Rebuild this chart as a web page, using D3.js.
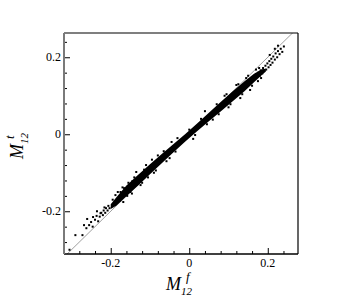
<!DOCTYPE html>
<html>
<head>
<meta charset="utf-8">
<script src="https://cdn.jsdelivr.net/npm/d3@7"></script>
<style>
body { margin: 0; background: white; }
</style>
</head>
<body>
<div id="chart"></div>
<script>
// dense band of points
var bandX  = [-0.200, -0.185, -0.160, -0.130, -0.100, -0.070, -0.040, -0.010, 0.020, 0.050, 0.080, 0.110, 0.140, 0.165, 0.185, 0.195]
var bandLo = [-0.194, -0.185, -0.161, -0.133, -0.104, -0.075, -0.047, -0.019, 0.008, 0.034, 0.059, 0.085, 0.111, 0.135, 0.154, 0.163]
var bandHi = [-0.182, -0.163, -0.133, -0.105, -0.078, -0.051, -0.025, 0.001, 0.028, 0.056, 0.084, 0.111, 0.137, 0.157, 0.169, 0.170]

// scattered points outside the dense band (M12 f, M12 t)
var ptsF = [-0.305, -0.290, -0.272, -0.262, -0.255, -0.250, -0.246, -0.240, -0.236, -0.232, -0.228, -0.224, -0.220, -0.218, -0.214, -0.212, -0.208, -0.206, -0.203, -0.260, -0.268, -0.245, -0.235, -0.226, -0.216,
            0.172, 0.176, 0.180, 0.182, 0.186, 0.188, 0.191, 0.194, 0.196, 0.199, 0.202, 0.204, 0.207, 0.209, 0.212, 0.214, 0.218, 0.220, 0.224, 0.226, 0.230, 0.233, 0.237, 0.241, 0.218, 0.226, 0.205,
            -0.170, -0.150, -0.140, -0.120, -0.110, -0.090, -0.080, -0.050, -0.030, 0.010, 0.040, 0.060, 0.090, 0.100, 0.120, 0.130, 0.150, 0.155, 0.170, 0.175,
            -0.195, -0.190, -0.182, -0.176, -0.166, -0.158, -0.145,
            -0.188, -0.175, -0.168, -0.155, -0.146, -0.135, -0.124, -0.115, -0.105, -0.095, -0.085, -0.065, -0.058, -0.045, -0.035, 0.000, 0.015, 0.030, 0.045, 0.070, 0.075, 0.095, 0.105, 0.125, 0.135, 0.145, 0.160, 0.178, 0.183]
var ptsT = [-0.300, -0.262, -0.262, -0.244, -0.236, -0.228, -0.240, -0.222, -0.212, -0.226, -0.214, -0.204, -0.210, -0.198, -0.204, -0.192, -0.198, -0.186, -0.192, -0.220, -0.236, -0.215, -0.200, -0.205, -0.190,
            0.150, 0.160, 0.152, 0.166, 0.158, 0.172, 0.164, 0.178, 0.168, 0.184, 0.174, 0.190, 0.180, 0.196, 0.186, 0.202, 0.194, 0.210, 0.200, 0.216, 0.208, 0.222, 0.214, 0.228, 0.222, 0.230, 0.206,
            -0.138, -0.150, -0.112, -0.126, -0.080, -0.100, -0.055, -0.062, -0.010, -0.012, 0.060, 0.038, 0.100, 0.070, 0.128, 0.094, 0.152, 0.115, 0.168, 0.138,
            -0.170, -0.182, -0.150, -0.172, -0.140, -0.160, -0.122,
            -0.158, -0.150, -0.176, -0.126, -0.154, -0.098, -0.132, -0.092, -0.112, -0.066, -0.094, -0.044, -0.070, -0.020, -0.045, 0.012, -0.002, 0.040, 0.026, 0.078, 0.052, 0.104, 0.078, 0.130, 0.104, 0.146, 0.126, 0.172, 0.146]

var majorTicks = [-0.2, 0, 0.2]
var minorTicks = [-0.28, -0.24, -0.16, -0.12, -0.08, -0.04, 0.04, 0.08, 0.12, 0.16, 0.24]
var xDomain = [-0.319, 0.277]
var yDomain = [-0.311, 0.263]

var margin = {top: 33, right: 48, bottom: 47, left: 64}
var width = 346 - margin.left - margin.right
var height = 301 - margin.top - margin.bottom

var svg = d3.select("#chart")
    .append("svg")
    .attr("width", 346)
    .attr("height", 301)
    .append("g")
    .attr("transform", "translate(" + margin.left + "," + margin.top + ")")

var x = d3.scaleLinear().domain(xDomain).range([0, width])
var y = d3.scaleLinear().domain(yDomain).range([height, 0])

svg.append("clipPath").attr("id", "plotClip")
    .append("rect").attr("width", width).attr("height", height)

var plot = svg.append("g").attr("clip-path", "url(#plotClip)")

// y = x reference line
plot.append("line")
    .attr("x1", x(xDomain[0])).attr("y1", y(xDomain[0]))
    .attr("x2", x(xDomain[1])).attr("y2", y(xDomain[1]))
    .style("stroke", "#888")
    .style("stroke-width", 0.8)

var band = d3.area()
    .x(function(d, i) { return x(d) })
    .y0(function(d, i) { return y(bandLo[i]) })
    .y1(function(d, i) { return y(bandHi[i]) })
    .curve(d3.curveLinear)

plot.append("path")
    .attr("d", band(bandX))
    .style("fill", "black")

plot.selectAll(".pt")
    .data(ptsF)
    .enter().append("rect")
    .attr("class", "pt")
    .attr("x", function(d) { return x(d) - 1 })
    .attr("y", function(d, i) { return y(ptsT[i]) - 1 })
    .attr("width", 2)
    .attr("height", 2)
    .style("fill", "black")

// ticks, pointing inwards
var xAxis = d3.axisTop(x).tickValues(majorTicks).tickSize(6).tickFormat("")
var xMinor = d3.axisTop(x).tickValues(minorTicks).tickSize(3).tickFormat("")
var yAxis = d3.axisRight(y).tickValues(majorTicks).tickSize(6).tickFormat("")
var yMinor = d3.axisRight(y).tickValues(minorTicks).tickSize(3).tickFormat("")

svg.append("g").attr("transform", "translate(0," + height + ")").call(xAxis)
svg.append("g").attr("transform", "translate(0," + height + ")").call(xMinor)
svg.append("g").call(yAxis)
svg.append("g").call(yMinor)
svg.selectAll(".domain").remove()
svg.selectAll(".tick line").style("stroke", "black")

// frame
svg.append("line").attr("x1", 0).attr("x2", width).attr("y1", 0).attr("y2", 0)
    .style("stroke", "black").style("stroke-width", 1.2)
svg.append("line").attr("x1", width).attr("x2", width).attr("y1", 0).attr("y2", height)
    .style("stroke", "black").style("stroke-width", 1.2)
svg.append("line").attr("x1", 0).attr("x2", width).attr("y1", height).attr("y2", height)
    .style("stroke", "black").style("stroke-width", 1.5)
svg.append("line").attr("x1", 0).attr("x2", 0).attr("y1", 0).attr("y2", height)
    .style("stroke", "#7a7a7a").style("stroke-width", 2)

// tick labels
var fmt = function(v) { return v == 0 ? "0" : (v < 0 ? "-" : "") + Math.abs(v).toFixed(1) }
majorTicks.forEach(function(t) {
    svg.append("text")
        .attr("x", x(t))
        .attr("y", height + 13)
        .attr("text-anchor", "middle")
        .text(fmt(t))
        .style("font-family", "Liberation Serif")
        .style("font-size", "12px")
    svg.append("text")
        .attr("x", -3)
        .attr("y", y(t) + 4)
        .attr("text-anchor", "end")
        .text(fmt(t))
        .style("font-family", "Liberation Serif")
        .style("font-size", "12px")
})

// axis titles: M with subscript 12 and superscript
function axisTitle(g, sup) {
    g.append("text").attr("x", 0).attr("y", 0).text("M")
        .style("font-size", "18px")
    g.append("text").attr("x", 15).attr("y", 5).text("12")
        .style("font-size", "11px")
    g.append("text").attr("x", 20).attr("y", -9).text(sup)
        .style("font-size", "13px")
    g.selectAll("text")
        .style("font-family", "Liberation Serif")
        .style("font-style", "italic")
}

var xTitle = d3.select("svg").append("g").attr("transform", "translate(166,290)")
axisTitle(xTitle, "f")
var yTitle = d3.select("svg").append("g").attr("transform", "translate(23,159) rotate(-90)")
axisTitle(yTitle, "t")
</script>
</body>
</html>
